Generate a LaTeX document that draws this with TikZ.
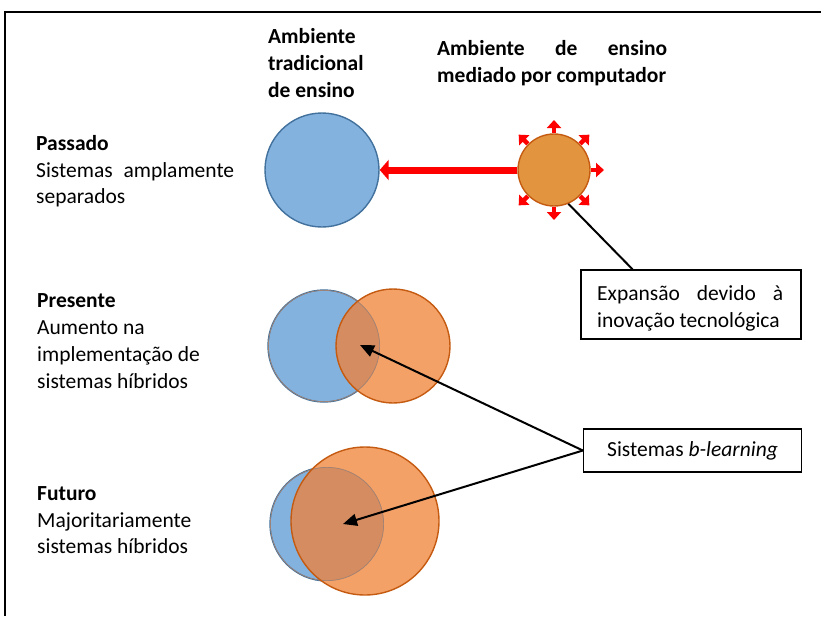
\documentclass[tikz,border=0pt]{standalone}
\usepackage{fontspec}
\setmainfont{Carlito}
\usetikzlibrary{arrows.meta,calc}
\definecolor{bfill}{RGB}{131,178,223}
\definecolor{bline}{RGB}{65,113,156}
\definecolor{ofill}{RGB}{243,161,103}
\definecolor{oline}{RGB}{197,90,17}
\definecolor{osmall}{RGB}{226,148,62}
\definecolor{overlap}{RGB}{212,140,96}
\definecolor{redarrow}{RGB}{255,0,0}
\tikzset{
  txt/.style={anchor=base west,inner sep=0pt,font=\fontsize{21.5}{26.5}\selectfont},
  hdr/.style={txt,font=\fontsize{21.5}{26.5}\selectfont\bfseries},
  bcirc/.style={circle,inner sep=0pt,fill=bfill,draw=bline,line width=1.4pt},
  ocirc/.style={circle,inner sep=0pt,fill=ofill,draw=oline,line width=1.4pt},
  labbox/.style={draw=black,line width=1.3pt,inner sep=0pt},
  redarr/.style={redarrow,line width=4.5pt,-{Triangle[length=8pt,width=14pt]}},
  blkarr/.style={black,line width=2pt,-{Triangle[length=14pt,width=12pt]}},
  frameline/.style={black,line width=1.8pt}
}
\begin{document}
\begin{tikzpicture}[x=1pt,y=-1pt]
\useasboundingbox (0,0) rectangle (821,616);
% frame
\coordinate (fb) at (5,616);
\coordinate (fc) at (5,12);
\coordinate (fr) at (821,12);
\draw[frameline] (fb) -- (fc) -- (fr);

% headers
\node[hdr] (h1) at (268,43) {Ambiente};
\node[hdr] (h2) at (268,70) {tradicional};
\node[hdr] (h3) at (268,97) {de ensino};
\node[hdr] (h4) at (437,55) {\hbox to 230pt{Ambiente\hfill de\hfill ensino}};
\node[hdr] (h5) at (437,82) {mediado por computador};

% left labels
\node[hdr] (pa1) at (36,150) {Passado};
\node[txt] (pa2) at (36,177) {\hbox to 198pt{Sistemas\hfill amplamente}};
\node[txt] (pa3) at (36,203) {separados};

\node[hdr] (pr1) at (37,307) {Presente};
\node[txt] (pr2) at (37,334) {Aumento na};
\node[txt] (pr3) at (37,361) {implementação de};
\node[txt] (pr4) at (37,388) {sistemas híbridos};

\node[hdr] (fu1) at (37,500) {Futuro};
\node[txt] (fu2) at (37,527) {Majoritariamente};
\node[txt] (fu3) at (37,553) {sistemas híbridos};

% Passado circles
\node[bcirc,minimum size=114pt] (b1) at (322,170) {};
\node[circle,inner sep=0pt,minimum size=72pt,fill=osmall,draw=oline,line width=1.4pt] (o1) at (554,170) {};
\draw[redarrow,line width=7pt,-{Triangle[length=9pt,width=20pt]}] (o1.west) -- (o1.west -| b1.east);
\foreach \a in {90,45,0,-45,-90,-135,135}{
  \draw[redarr] ($(o1)+(\a:37)$) -- ($(o1)+(\a:50)$);
}

% Presente circles
\node[bcirc,minimum size=112pt] (b2) at (324,346) {};
\node[ocirc,draw=none,minimum size=114pt] (o2) at (393,346) {};
\begin{scope}
  \clip (324,346) circle (56);
  \fill[overlap] (393,346) circle (57);
  \draw[bline!35!overlap,line width=1.4pt] (324,346) circle (56);
\end{scope}
\draw[oline,line width=1.4pt] (o2.center) circle (57);

% Futuro circles
\node[bcirc,minimum size=114pt] (b3) at (327,524) {};
\node[ocirc,draw=none,minimum size=148pt] (o3) at (365,521) {};
\begin{scope}
  \clip (327,524) circle (57);
  \fill[overlap] (365,521) circle (74);
  \draw[bline!35!overlap,line width=1.4pt] (327,524) circle (57);
\end{scope}
\draw[oline,line width=1.4pt] (o3.center) circle (74);

% boxes
\node[labbox,minimum width=220pt,minimum height=69pt] (exp) at (691,304.5) {};
\node[txt] (e1) at (597,300) {\hbox to 186pt{Expansão\hfill devido\hfill à}};
\node[txt] (e2) at (597,327) {inovação tecnológica};
\node[labbox,minimum width=218pt,minimum height=43pt,font=\fontsize{21.5}{26.5}\selectfont] (bl) at (692.5,450.5) {Sistemas \textit{b-learning}};

% connectors
\coordinate (et) at ($(exp.north west)!0.236!(exp.north east)$);
\draw[black,line width=2pt] (o1.-67) -- (et);
\coordinate (p2) at (360,345);
\coordinate (p3) at (343,524);
\draw[blkarr] (bl.west) -- (p2);
\draw[blkarr] (bl.west) -- (p3);
\end{tikzpicture}
\end{document}
